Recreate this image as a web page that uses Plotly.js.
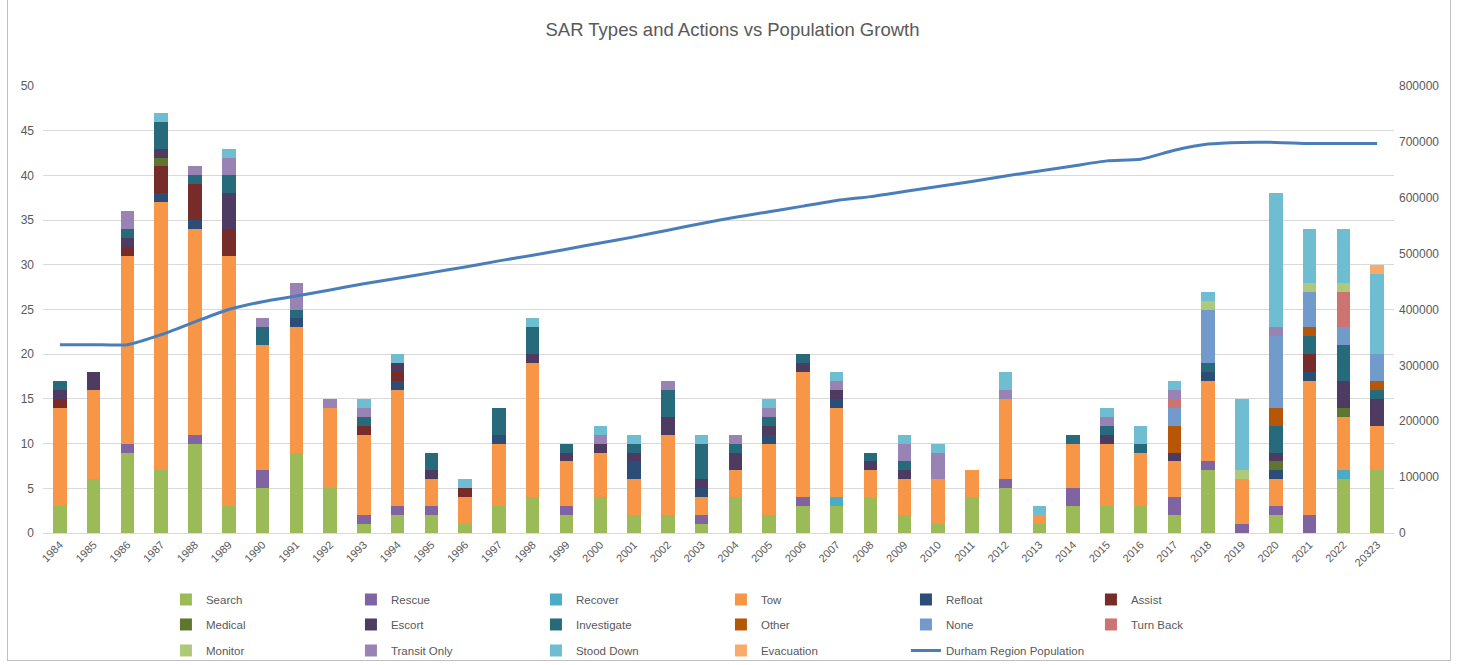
<!DOCTYPE html>
<html>
<head>
<meta charset="utf-8">
<script src="https://cdn.plot.ly/plotly-3.0.1.min.js"></script>
<style>
  html, body { margin: 0; padding: 0; background: #ffffff; }
  #wrap { position: relative; width: 1465px; height: 665px; }
  #chart { position: absolute; left: 0; top: 0; width: 1465px; height: 665px; }
  #frame { position: absolute; left: 7px; top: -2px; width: 1444px; height: 663px;
           border: 1px solid #BFBFBF; pointer-events: none; box-sizing: border-box; }
</style>
</head>
<body>
<div id="wrap"><div id="chart"></div><div id="frame"></div></div>
<script>
const years = ["1984","1985","1986","1987","1988","1989","1990","1991","1992","1993",
  "1994","1995","1996","1997","1998","1999","2000","2001","2002","2003",
  "2004","2005","2006","2007","2008","2009","2010","2011","2012","2013",
  "2014","2015","2016","2017","2018","2019","2020","2021","2022","20323"];

//                 84 85 86 87 88 89 90 91 92 93 94 95 96 97 98 99 00 01 02 03 04 05 06 07 08 09 10 11 12 13 14 15 16 17 18 19 20 21 22 23
const search     = [3, 6, 9, 7,10, 3, 5, 9, 5, 1, 2, 2, 1, 3, 4, 2, 4, 2, 2, 1, 4, 2, 3, 3, 4, 2, 1, 4, 5, 1, 3, 3, 3, 2, 7, 0, 2, 0, 6, 7];
const rescue     = [0, 0, 1, 0, 1, 0, 2, 0, 0, 1, 1, 1, 0, 0, 0, 1, 0, 0, 0, 1, 0, 0, 1, 0, 0, 0, 0, 0, 1, 0, 2, 0, 0, 2, 1, 1, 1, 2, 0, 0];
const recover    = [0, 0, 0, 0, 0, 0, 0, 0, 0, 0, 0, 0, 0, 0, 0, 0, 0, 0, 0, 0, 0, 0, 0, 1, 0, 0, 0, 0, 0, 0, 0, 0, 0, 0, 0, 0, 0, 0, 1, 0];
const tow        = [11,10,21,30,23,28,14,14, 9, 9,13, 3, 3, 7,15, 5, 5, 4, 9, 2, 3, 8,14,10, 3, 4, 5, 3, 9, 1, 5, 7, 6, 4, 9, 5, 3,15, 6, 5];
const refloat    = [0, 0, 0, 1, 1, 0, 0, 1, 0, 0, 1, 0, 0, 1, 0, 0, 0, 2, 0, 1, 0, 1, 0, 1, 0, 0, 0, 0, 0, 0, 0, 0, 0, 0, 1, 0, 1, 1, 0, 0];
const assist     = [1, 0, 1, 3, 4, 3, 0, 0, 0, 1, 1, 0, 1, 0, 0, 0, 0, 0, 0, 0, 0, 0, 0, 0, 0, 0, 0, 0, 0, 0, 0, 0, 0, 0, 0, 0, 0, 2, 0, 0];
const medical    = [0, 0, 0, 1, 0, 0, 0, 0, 0, 0, 0, 0, 0, 0, 0, 0, 0, 0, 0, 0, 0, 0, 0, 0, 0, 0, 0, 0, 0, 0, 0, 0, 0, 0, 0, 0, 1, 0, 1, 0];
const escort     = [1, 2, 1, 1, 0, 4, 0, 0, 0, 0, 1, 1, 0, 0, 1, 1, 1, 1, 2, 1, 2, 1, 1, 1, 1, 1, 0, 0, 0, 0, 0, 1, 0, 1, 0, 0, 1, 0, 3, 3];
const investigate= [1, 0, 1, 3, 1, 2, 2, 1, 0, 1, 0, 2, 0, 3, 3, 1, 0, 1, 3, 4, 1, 1, 1, 0, 1, 1, 0, 0, 0, 0, 1, 1, 1, 0, 1, 0, 3, 2, 4, 1];
const other      = [0, 0, 0, 0, 0, 0, 0, 0, 0, 0, 0, 0, 0, 0, 0, 0, 0, 0, 0, 0, 0, 0, 0, 0, 0, 0, 0, 0, 0, 0, 0, 0, 0, 3, 0, 0, 2, 1, 0, 1];
const none       = [0, 0, 0, 0, 0, 0, 0, 0, 0, 0, 0, 0, 0, 0, 0, 0, 0, 0, 0, 0, 0, 0, 0, 0, 0, 0, 0, 0, 0, 0, 0, 0, 0, 2, 6, 0, 8, 4, 2, 3];
const turnBack   = [0, 0, 0, 0, 0, 0, 0, 0, 0, 0, 0, 0, 0, 0, 0, 0, 0, 0, 0, 0, 0, 0, 0, 0, 0, 0, 0, 0, 0, 0, 0, 0, 0, 1, 0, 0, 0, 0, 4, 0];
const monitor    = [0, 0, 0, 0, 0, 0, 0, 0, 0, 0, 0, 0, 0, 0, 0, 0, 0, 0, 0, 0, 0, 0, 0, 0, 0, 0, 0, 0, 0, 0, 0, 0, 0, 0, 1, 1, 0, 1, 1, 0];
const transitOnly= [0, 0, 2, 0, 1, 2, 1, 3, 1, 1, 0, 0, 0, 0, 0, 0, 1, 0, 1, 0, 1, 1, 0, 1, 0, 2, 3, 0, 1, 0, 0, 1, 0, 1, 0, 0, 1, 0, 0, 0];
const stoodDown  = [0, 0, 0, 1, 0, 1, 0, 0, 0, 1, 1, 0, 1, 0, 1, 0, 1, 1, 0, 1, 0, 1, 0, 1, 0, 1, 1, 0, 2, 1, 0, 1, 2, 1, 1, 8,15, 6, 6, 9];
const evacuation = [0, 0, 0, 0, 0, 0, 0, 0, 0, 0, 0, 0, 0, 0, 0, 0, 0, 0, 0, 0, 0, 0, 0, 0, 0, 0, 0, 0, 0, 0, 0, 0, 0, 0, 0, 0, 0, 0, 0, 1];

const population = [337000,337000,337000,355000,378000,400000,414000,424000,435000,446000,
  456000,466000,476000,487000,497000,508000,519000,530000,542000,554000,
  565000,575000,585000,595000,602000,611000,620000,629000,639000,648000,
  657000,666000,669000,685000,696000,699000,699000,697000,697000,697000];

const seriesNames = ["Search","Rescue","Recover","Tow","Refloat","Assist","Medical","Escort",
  "Investigate","Other","None","Turn Back","Monitor","Transit Only","Stood Down","Evacuation"];
const seriesValues = [search,rescue,recover,tow,refloat,assist,medical,escort,
  investigate,other,none,turnBack,monitor,transitOnly,stoodDown,evacuation];
const seriesColors = ["#9BBB59","#8064A2","#4BACC6","#F79646","#2C4D75","#772C2A","#5F7530","#4D3B62",
  "#276A7C","#B65708","#729ACA","#CD7371","#AFC97A","#9983B5","#6FBDD1","#F9AB6B"];

const legendIds = ["legend", "legend2", "legend3"];
const traces = seriesNames.map((n, i) => ({
  type: "bar", name: n, x: years, y: seriesValues[i],
  marker: { color: seriesColors[i], line: { width: 0 } },
  legend: legendIds[Math.floor(i / 6)],
  hoverinfo: "x+y+name"
}));
traces.push({
  type: "scatter", mode: "lines", name: "Durham Region Population",
  x: years, y: population, yaxis: "y2", legend: "legend3",
  line: { color: "#4A7EBB", width: 3, shape: "spline", smoothing: 0.6 }
});

const fontFam = "Liberation Sans, Arial, sans-serif";
const legendBase = {
  orientation: "h", x: 0.091, xanchor: "left", yanchor: "top",
  entrywidth: 140, entrywidthmode: "pixels", traceorder: "normal",
  font: { family: fontFam, size: 11.5, color: "#595959" }, bgcolor: "rgba(0,0,0,0)"
};
const layout = {
  width: 1465, height: 665,
  paper_bgcolor: "rgba(0,0,0,0)", plot_bgcolor: "#ffffff",
  margin: { l: 43, r: 71, t: 86, b: 132, autoexpand: false },
  barmode: "stack", bargap: 0.6,
  font: { family: fontFam, color: "#595959", size: 11 },
  title: { text: "SAR Types and Actions vs Population Growth", x: 0.5, xanchor: "center",
           y: 0.955, yanchor: "middle", font: { family: fontFam, size: 18.5, color: "#595959" } },
  xaxis: { type: "category", tickangle: -45, showgrid: false, showline: true,
           linecolor: "#D9D9D9", linewidth: 1, ticks: "", tickfont: { size: 11, color: "#595959" } },
  yaxis: { range: [0, 50], dtick: 5, showgrid: true, gridcolor: "#D9D9D9", gridwidth: 1,
           zeroline: false, ticks: "", tickfont: { size: 12, color: "#595959" }, ticklabelstandoff: 8 },
  yaxis2: { range: [0, 800000], dtick: 100000, overlaying: "y", side: "right", showgrid: false,
            zeroline: false, ticks: "", tickformat: "d", tickfont: { size: 12, color: "#595959" },
            ticklabelstandoff: 4 },
  legend: Object.assign({}, legendBase, { y: -0.1163 }),
  legend2: Object.assign({}, legendBase, { y: -0.1722 }),
  legend3: Object.assign({}, legendBase, { y: -0.2304 }),
  showlegend: true
};

Plotly.newPlot("chart", traces, layout, { displayModeBar: false, staticPlot: true });
</script>
</body>
</html>
